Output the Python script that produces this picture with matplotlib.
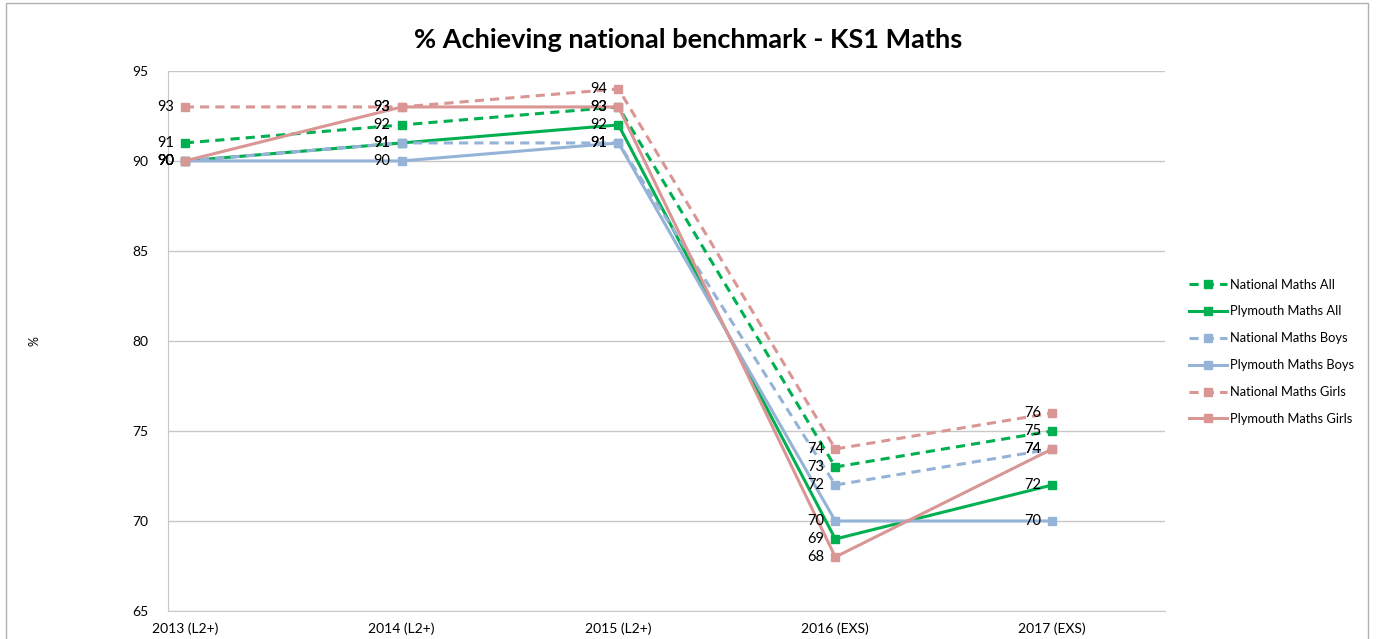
import matplotlib.pyplot as plt
from matplotlib.patches import Rectangle

# categories and series
years = ['2013 (L2+)', '2014 (L2+)', '2015 (L2+)', '2016 (EXS)', '2017 (EXS)']
national_all = [91, 92, 93, 73, 75]
plymouth_all = [90, 91, 92, 69, 72]
national_boys = [90, 91, 91, 72, 74]
plymouth_boys = [90, 90, 91, 70, 70]
national_girls = [93, 93, 94, 74, 76]
plymouth_girls = [90, 93, 93, 68, 74]

green = '#00B050'
blue = '#95B3D7'
pink = '#D99694'

series = [
    ('National Maths All', national_all, green, '--'),
    ('Plymouth Maths All', plymouth_all, green, '-'),
    ('National Maths Boys', national_boys, blue, '--'),
    ('Plymouth Maths Boys', plymouth_boys, blue, '-'),
    ('National Maths Girls', national_girls, pink, '--'),
    ('Plymouth Maths Girls', plymouth_girls, pink, '-'),
]

plt.rcParams['font.family'] = ['Lato', 'DejaVu Sans']

fig = plt.figure(figsize=(13.76, 6.39), dpi=100)
ax = fig.add_axes([0.122, 0.0438, 0.7246, 0.8452])

x = list(range(len(years)))
for name, vals, col, ls in series:
    ax.plot(x, vals, color=col, linestyle=ls, linewidth=2.2, marker='s',
            markersize=6, label=name, dashes=(3, 2) if ls == '--' else (None, None))

# data labels (drawn after lines so they sit on top)
for name, vals, col, ls in series:
    for xi, v in zip(x, vals):
        ax.annotate(str(v), (xi, v), xytext=(-8, 0), textcoords='offset points',
                    ha='right', va='center', fontsize=10.5, color='black')

ax.set_ylim(65, 95)
ax.set_yticks(range(65, 96, 5))
ax.set_xlim(-0.078, 4.52)
ax.set_xticks(x)
ax.set_xticklabels(years)
ax.tick_params(axis='x', length=0, labelsize=10, pad=8)
ax.tick_params(axis='y', length=0, labelsize=10, pad=14)
ax.grid(axis='y', color='#c8c8c8', linewidth=1)
ax.set_axisbelow(True)
for s in ['top', 'right']:
    ax.spines[s].set_visible(False)
ax.spines['left'].set_color('#c8c8c8')
ax.spines['bottom'].set_color('#c8c8c8')
ax.set_ylabel('%', fontsize=9)
ax.yaxis.set_label_coords(-0.128, 0.5)

fig.text(0.5, 0.937, '% Achieving national benchmark - KS1 Maths', ha='center',
         va='center', fontsize=19.5, fontweight='bold')

leg = ax.legend(loc='center left', bbox_to_anchor=(1.012, 0.48), frameon=False,
                fontsize=9.3, handlelength=3.0, labelspacing=1.15, handletextpad=0.25)

fig.patches.append(Rectangle((0.004, -0.01), 0.99, 1.005, transform=fig.transFigure,
                             fill=False, edgecolor='#b0b0b0', linewidth=1))

fig.savefig('out.png', dpi=100)
